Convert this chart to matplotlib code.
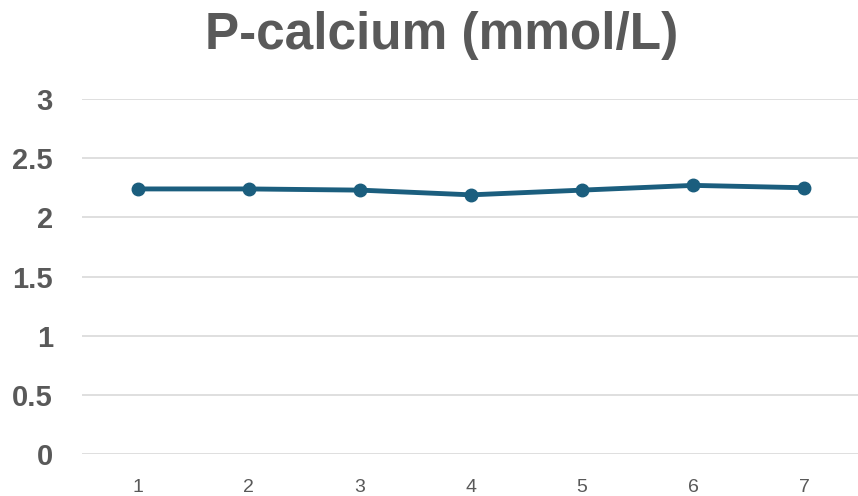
import matplotlib.pyplot as plt

# data
visits = [1, 2, 3, 4, 5, 6, 7]
calcium = [2.24, 2.24, 2.23, 2.19, 2.23, 2.27, 2.25]
y_ticks = [0, 0.5, 1, 1.5, 2, 2.5, 3]
y_labels = ['0', '0.5', '1', '1.5', '2', '2.5', '3']

plt.rcParams['font.family'] = ['Liberation Sans', 'DejaVu Sans']

fig = plt.figure(figsize=(8.58, 4.96), dpi=100)
ax = fig.add_axes([82 / 858, 1 - 454 / 496, (860 - 82) / 858, (454 - 99) / 496])

ax.plot(visits, calcium, color='#1B5E7E', linewidth=3.5, marker='o',
        markersize=9, solid_capstyle='round', zorder=3)

ax.set_xlim(0.5, 7.5)
ax.set_ylim(0, 3)
ax.set_xticks(visits)
ax.set_xticklabels([str(v) for v in visits], fontsize=14, color='#595959')
ax.set_yticks(y_ticks)
ax.set_yticklabels(y_labels, fontsize=21, fontweight='bold', color='#595959')

ax.grid(axis='y', color='#D9D9D9', linewidth=1.2)
ax.set_axisbelow(True)
for s in ax.spines.values():
    s.set_visible(False)
ax.tick_params(length=0)
ax.tick_params(axis='y', pad=21)
ax.tick_params(axis='x', pad=18)

fig.text(0.515, 0.928, 'P-calcium (mmol/L)', ha='center', va='center',
         fontsize=37, fontweight='bold', color='#595959')

fig.savefig('out.png', dpi=100)
